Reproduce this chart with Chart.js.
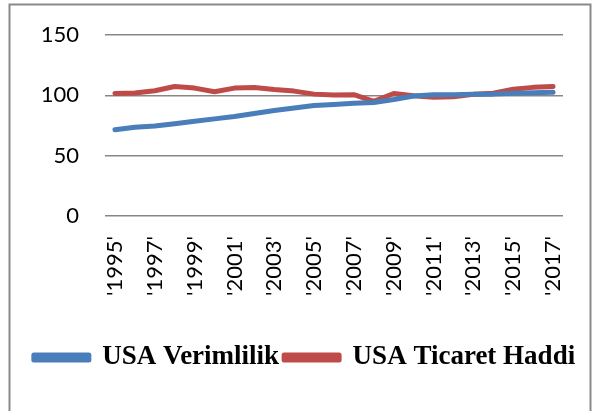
<!DOCTYPE html>
<html>
<head>
<meta charset="utf-8">
<script src="https://cdn.jsdelivr.net/npm/chart.js@4"></script>
<style>
	body { margin:0; background:#fff; }
	.kutu { position:relative; width:603px; height:411px; }
</style>
</head>
<body>
<div class="kutu"><canvas id="myChart" width="603" height="411"></canvas></div>
<script>
// yillar (x ekseni)
const yillar = ["'1995'","'1996'","'1997'","'1998'","'1999'","'2000'","'2001'","'2002'","'2003'","'2004'","'2005'","'2006'",
	"'2007'","'2008'","'2009'","'2010'","'2011'","'2012'","'2013'","'2014'","'2015'","'2016'","'2017'"];

// USA Verimlilik
const verimlilik = [71.5,73.5,74.5,76.5,78.5,80.5,82.5,85,87.5,89.5,91.5,92.5,93.5,94,96.5,99.5,100.5,100.5,101,101,101.8,102.2,102.5];

// USA Ticaret Haddi
const ticaret = [101.5,102,103.8,107.3,106,103,106,106.5,104.8,103.5,101,100.2,100.5,95,101.5,99.7,98.5,98.9,100.8,101.8,105,106.6,107.4];

// y ekseni
const yMin = 0, yMax = 150, yAdim = 50;

const ctx = document.getElementById('myChart');

// cerceve + legend kaydirma
const cerceve = {
	id : 'cerceve',
	afterLayout(chart){
		// legend biraz saga
		chart.legend.left += 23;
		chart.legend.right += 23;
	},
	beforeDraw(chart){
		const c = chart.ctx;
		c.save();
		c.fillStyle = '#fff';
		c.fillRect(0,0,chart.width,chart.height);
		c.strokeStyle = '#8a8a8a';
		c.lineWidth = 2;
		c.beginPath();
		c.moveTo(9.5, 411); c.lineTo(9.5, 4.5); c.lineTo(590.5, 4.5); c.lineTo(590.5, 411);
		c.stroke();
		c.restore();
	}
};

new Chart(ctx, {
	type : 'line',
	data : {
		labels : yillar,
		datasets : [
			{
				label : 'USA Verimlilik',
				data : verimlilik,
				borderColor : '#4a7ebb',
				backgroundColor : '#4a7ebb',
				borderWidth : 5,
				pointRadius : 0,
				borderCapStyle : 'round',
				borderJoinStyle : 'round',
				tension : 0
			},
			{
				label : 'USA Ticaret Haddi',
				data : ticaret,
				borderColor : '#be4b48',
				backgroundColor : '#be4b48',
				borderWidth : 5,
				pointRadius : 0,
				borderCapStyle : 'round',
				borderJoinStyle : 'round',
				tension : 0
			}
		]
	},
	options : {
		responsive : false,
		animation : false,
		layout : { padding : { top : 35, right : 40, bottom : 30, left : 0 } },
		plugins : {
			tooltip : { enabled : false },
			legend : {
				position : 'bottom',
				labels : {
					boxWidth : 55,
					boxHeight : 5,
					padding : 5,
					color : '#000',
					font : { family : "'Liberation Serif', 'Times New Roman', serif", size : 27, weight : 'bold' }
				}
			}
		},
		scales : {
			x : {
				offset : true,
				grid : { display : false, drawTicks : false },
				border : { display : false },
				ticks : {
					autoSkip : false,
					minRotation : 90,
					maxRotation : 90,
					padding : 20,
					color : '#000',
					font : { family : 'Lato, sans-serif', size : 22 },
					callback : function(v, i){ return i % 2 == 0 ? this.getLabelForValue(v) : ''; }
				},
				afterFit : (s)=>{ s.height = 123; }
			},
			y : {
				min : yMin,
				max : yMax,
				grid : { color : '#878787', lineWidth : 1.5, drawTicks : true, tickLength : 26, tickColor : 'transparent' },
				border : { display : false },
				ticks : {
					stepSize : yAdim,
					padding : 0,
					color : '#000',
					font : { family : 'Lato, sans-serif', size : 22 }
				},
				afterFit : (s)=>{ s.width = 105; }
			}
		}
	},
	plugins : [cerceve]
});
</script>
</body>
</html>
